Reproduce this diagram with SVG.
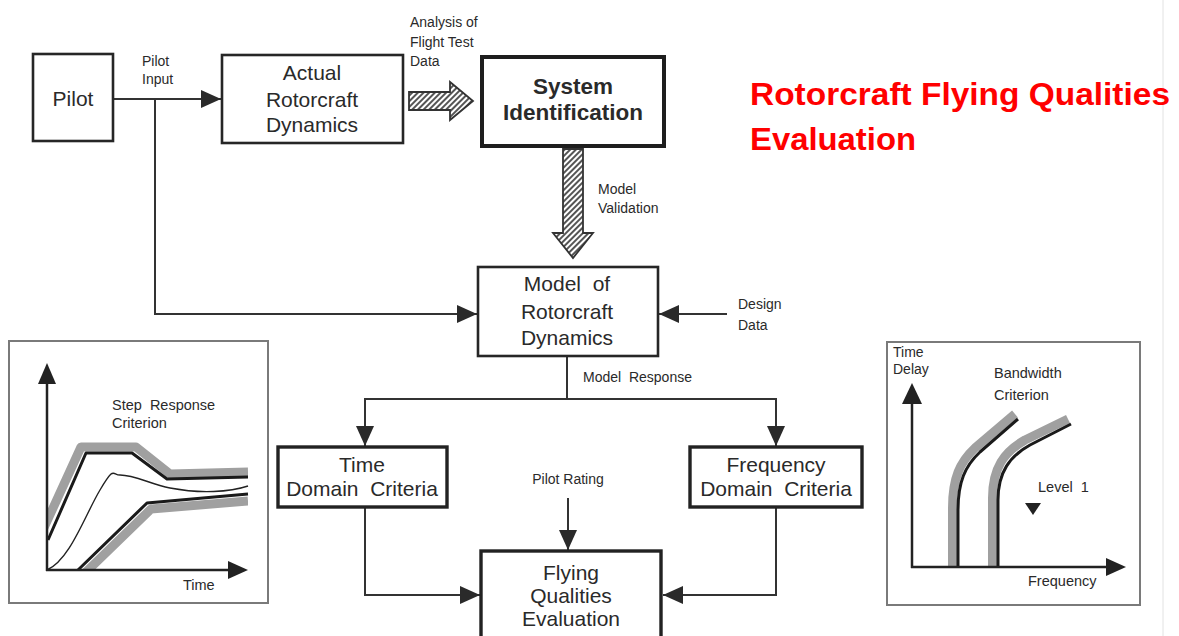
<svg xmlns="http://www.w3.org/2000/svg" width="1179" height="636" viewBox="0 0 1179 636">
<style>
.box{fill:#fff;stroke:#262626;stroke-width:2.6}
.thick{fill:#fff;stroke:#1e1e1e;stroke-width:4}
.med{fill:#fff;stroke:#222;stroke-width:3.4}
.big{font-family:"Liberation Sans",Arial,sans-serif;font-size:21px;fill:#2a2a2a;text-anchor:middle}
.bold{font-family:"Liberation Sans",Arial,sans-serif;font-size:22.5px;font-weight:bold;fill:#2a2a2a;text-anchor:middle}
.sm{font-family:"Liberation Sans",Arial,sans-serif;font-size:14px;fill:#2a2a2a}
.gl{font-family:"Liberation Sans",Arial,sans-serif;font-size:14.5px;fill:#2a2a2a}
.conn{fill:none;stroke:#333;stroke-width:2}
.hatch{fill:url(#hatch);stroke:#333;stroke-width:1.8}
.frame{fill:#fff;stroke:#7a7a7a;stroke-width:2}
.axis{fill:none;stroke:#222;stroke-width:2.5}
.band{fill:none;stroke:#a0a0a0;stroke-width:9;stroke-linejoin:round}
.edge{fill:none;stroke:#1a1a1a;stroke-width:3;stroke-linejoin:round}
.title{font-family:"Liberation Sans",Arial,sans-serif;font-size:32px;font-weight:bold;fill:#ff0000}
</style>
<defs>
<pattern id="hatch" width="4" height="4" patternUnits="userSpaceOnUse" patternTransform="rotate(45)">
<rect width="4" height="4" fill="#fff"/>
<line x1="1" y1="0" x2="1" y2="4" stroke="#555" stroke-width="2"/>
</pattern>
<marker id="ah" markerUnits="userSpaceOnUse" markerWidth="20" markerHeight="18" refX="20" refY="9" orient="auto">
<path d="M0,0 L20,9 L0,18 z" fill="#2a2a2a"/>
</marker>
<clipPath id="clipL"><rect x="48" y="340" width="200" height="229"/></clipPath>
</defs>
<rect width="1179" height="636" fill="#fff"/>
<line x1="1163" y1="0" x2="1163" y2="636" stroke="#e2e2e2" stroke-width="1"/>

<g id="connectors">
<line class="conn" x1="113" y1="99" x2="221" y2="99" marker-end="url(#ah)"/>
<polyline class="conn" points="155,99 155,314 477,314" marker-end="url(#ah)"/>
<line class="conn" x1="727" y1="314" x2="659" y2="314" marker-end="url(#ah)"/>
<line class="conn" x1="567" y1="356" x2="567" y2="399"/>
<line class="conn" x1="364" y1="399" x2="777" y2="399"/>
<line class="conn" x1="365" y1="399" x2="365" y2="446" marker-end="url(#ah)"/>
<line class="conn" x1="776" y1="399" x2="776" y2="446" marker-end="url(#ah)"/>
<line class="conn" x1="568" y1="498" x2="568" y2="550" marker-end="url(#ah)"/>
<polyline class="conn" points="365,508 365,595 480,595" marker-end="url(#ah)"/>
<polyline class="conn" points="776,508 776,595 663,595" marker-end="url(#ah)"/>
<polygon id="hatch-right" class="hatch" points="409,92 450,92 450,82 473,101 450,120 450,110 409,110"/>
<polygon id="hatch-down" class="hatch" points="563,149 583,149 583,233 593,233 573,258 553,233 563,233"/>
<text class="sm" x="142" y="66">Pilot</text>
<text class="sm" x="142" y="84">Input</text>
<text class="sm" x="410" y="27">Analysis of</text>
<text class="sm" x="410" y="47">Flight Test</text>
<text class="sm" x="410" y="66">Data</text>
<text class="sm" x="598" y="194">Model</text>
<text class="sm" x="598" y="213">Validation</text>
<text class="sm" x="738" y="309">Design</text>
<text class="sm" x="738" y="330">Data</text>
<text class="sm" x="583" y="382" xml:space="preserve">Model  Response</text>
<text class="sm" x="568" y="484" text-anchor="middle">Pilot Rating</text>
</g>

<g id="pilot">
<rect class="box" x="33" y="54" width="80" height="87"/>
<text class="big" x="73" y="106">Pilot</text>
</g>

<g id="actual-dynamics">
<rect class="box" x="222" y="55" width="181" height="88"/>
<text class="big" x="312" y="80">Actual</text>
<text class="big" x="312" y="107">Rotorcraft</text>
<text class="big" x="312" y="132">Dynamics</text>
</g>

<g id="system-identification">
<rect class="thick" x="482" y="57" width="182" height="89"/>
<text class="bold" x="573" y="94">System</text>
<text class="bold" x="573" y="120">Identification</text>
</g>

<g id="model-dynamics">
<rect class="box" x="478" y="267" width="180" height="89"/>
<text class="big" x="567" y="291" xml:space="preserve">Model  of</text>
<text class="big" x="567" y="319">Rotorcraft</text>
<text class="big" x="567" y="345">Dynamics</text>
</g>

<g id="time-domain">
<rect class="med" x="278" y="447" width="169" height="60"/>
<text class="big" x="362" y="472">Time</text>
<text class="big" x="362" y="496" xml:space="preserve">Domain  Criteria</text>
</g>

<g id="frequency-domain">
<rect class="med" x="690" y="447" width="172" height="60"/>
<text class="big" x="776" y="472">Frequency</text>
<text class="big" x="776" y="496" xml:space="preserve">Domain  Criteria</text>
</g>

<g id="flying-qualities">
<rect class="med" x="481" y="551" width="180" height="92"/>
<text class="big" x="571" y="580">Flying</text>
<text class="big" x="571" y="603">Qualities</text>
<text class="big" x="571" y="626">Evaluation</text>
</g>

<g id="step-response-graph">
<rect class="frame" x="9" y="341" width="259" height="262"/>
<g clip-path="url(#clipL)">
<polyline class="band" points="42,532 81,447 136,447 170,474 248,472"/>
<polyline class="band" points="84,574 151,509 248,501"/>
</g>
<polyline class="edge" points="48,540 86,453 132,453 167,479 248,477"/>
<polyline class="edge" points="78,570 147,503 248,494"/>
<path d="M47,570 C70,560 85,515 100,490 S112,475 120,475 C135,475 150,484 170,488 C200,494 230,492 248,486" fill="none" stroke="#222" stroke-width="1.4"/>
<line class="axis" x1="47" y1="571" x2="47" y2="380"/>
<line class="axis" x1="46" y1="570" x2="230" y2="570"/>
<polygon points="47,363 38,384 56,384" fill="#222"/>
<polygon points="248,570 228,561 228,579" fill="#222"/>
<text class="gl" x="112" y="410" xml:space="preserve">Step  Response</text>
<text class="gl" x="112" y="428">Criterion</text>
<text class="gl" x="183" y="590">Time</text>
</g>

<g id="bandwidth-graph">
<rect class="frame" x="887" y="342" width="253" height="263"/>
<path class="band" d="M952.5,567 L952.5,508 C952.5,478 960,462 975,448 L1015,414"/>
<path class="edge" d="M958,567 L958,510 C958,482 965,466 980,452 L1018,419"/>
<path class="band" d="M992.5,567 L992.5,498 C992.5,468 1004,452 1025,440 L1068,419"/>
<path class="edge" d="M998,567 L998,500 C998,472 1010,456 1030,445 L1071,424"/>
<line class="axis" x1="912" y1="568" x2="912" y2="398"/>
<line class="axis" x1="911" y1="567" x2="1110" y2="567"/>
<polygon points="912,383 902,404 922,404" fill="#222"/>
<polygon points="1126,567 1106,558 1106,576" fill="#222"/>
<polygon points="1025,503 1041,503 1033,515" fill="#222"/>
<text class="sm" x="893" y="357">Time</text>
<text class="sm" x="893" y="374">Delay</text>
<text class="gl" x="994" y="378">Bandwidth</text>
<text class="gl" x="994" y="400">Criterion</text>
<text class="gl" x="1038" y="492" xml:space="preserve">Level  1</text>
<text class="gl" x="1028" y="586">Frequency</text>
</g>

<g id="title">
<text class="title" x="750" y="105" textLength="420" lengthAdjust="spacingAndGlyphs">Rotorcraft Flying Qualities</text>
<text class="title" x="750" y="150" textLength="166" lengthAdjust="spacingAndGlyphs">Evaluation</text>
</g>
</svg>
